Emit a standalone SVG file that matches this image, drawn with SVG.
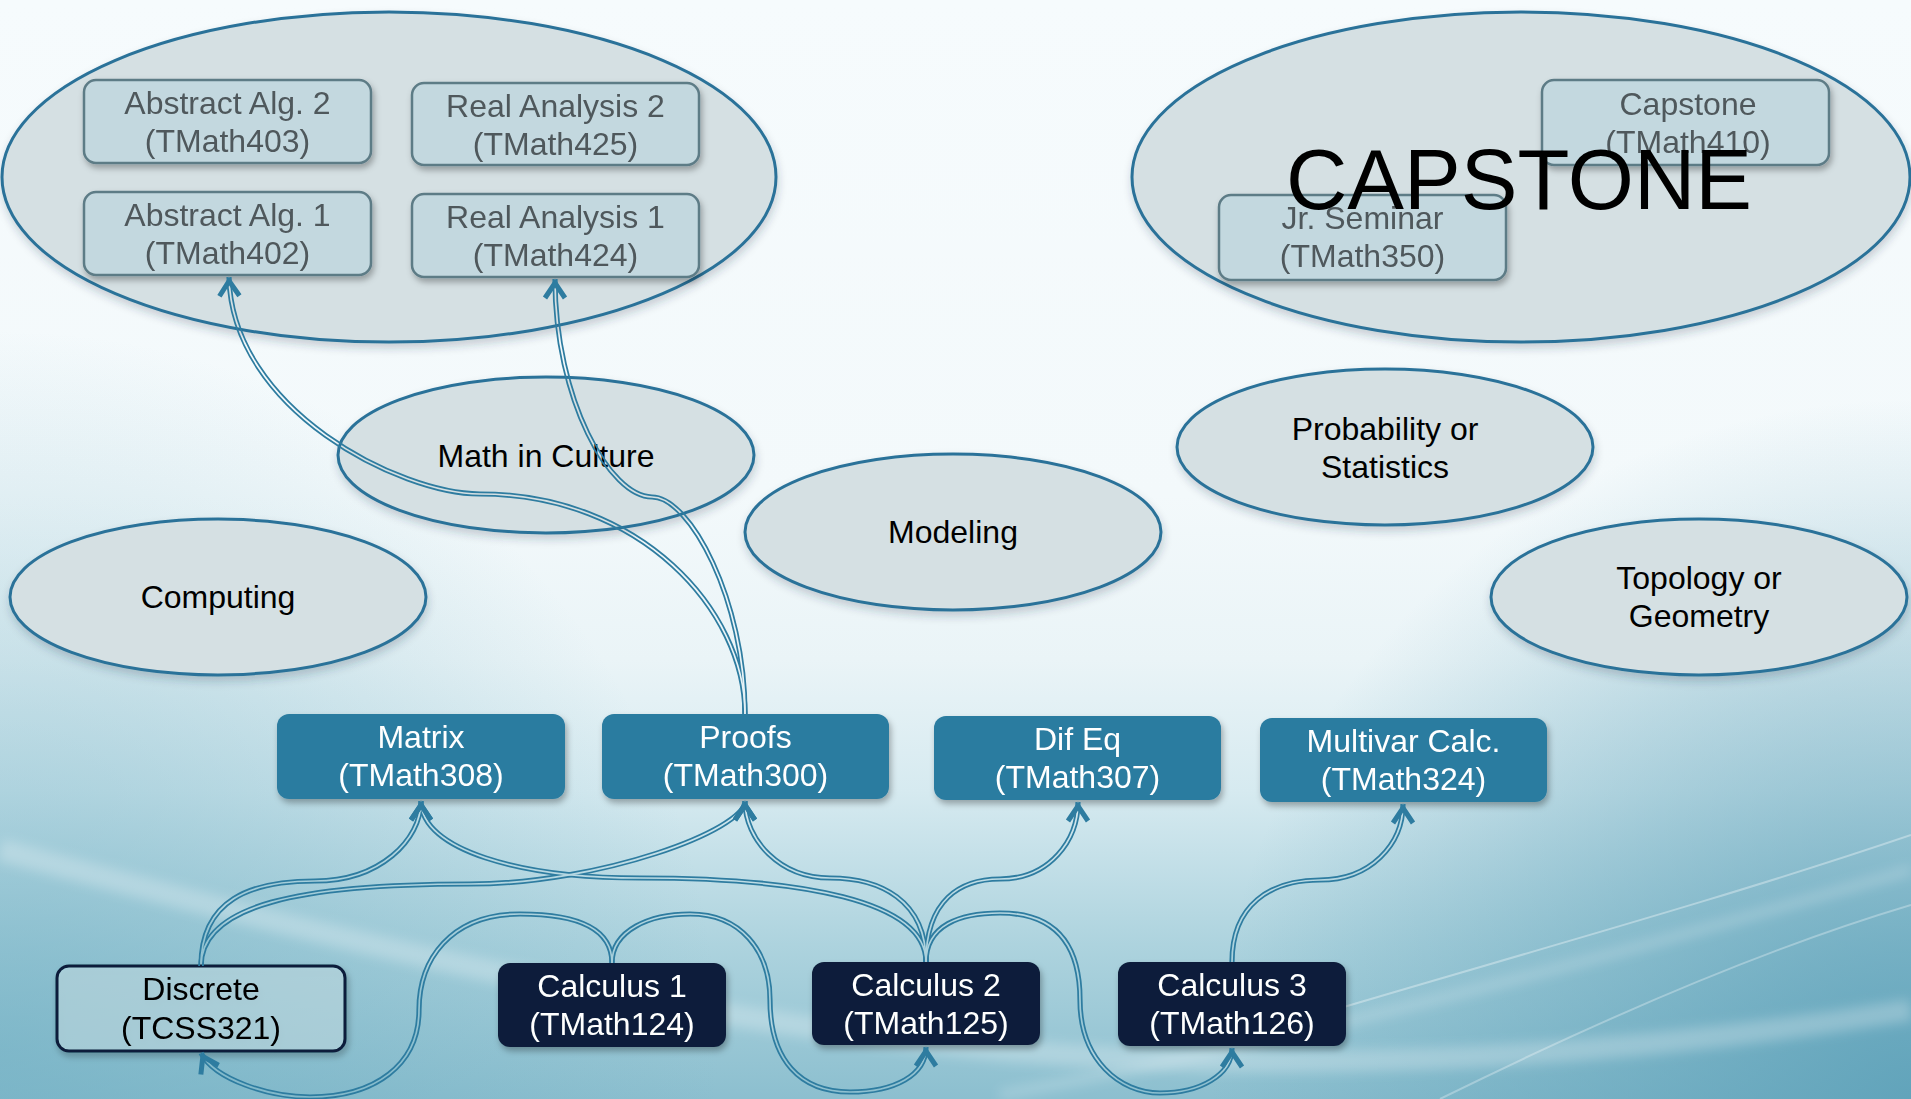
<svg xmlns="http://www.w3.org/2000/svg" xmlns:xlink="http://www.w3.org/1999/xlink" width="1911" height="1099" viewBox="0 0 1911 1099">
  <defs>
    <linearGradient id="bg" x1="0" y1="0" x2="0" y2="1">
      <stop offset="0" stop-color="#f6fbfd"/>
      <stop offset="0.45" stop-color="#f3f9fb"/>
      <stop offset="0.6" stop-color="#eaf4f7"/>
      <stop offset="0.72" stop-color="#d6eaf0"/>
      <stop offset="0.86" stop-color="#add3de"/>
      <stop offset="1" stop-color="#8cbfcf"/>
    </linearGradient>
    <radialGradient id="bgLeft" gradientUnits="userSpaceOnUse" cx="0" cy="1050" r="720">
      <stop offset="0" stop-color="#6eaec2" stop-opacity="0.6"/>
      <stop offset="1" stop-color="#6eaec2" stop-opacity="0"/>
    </radialGradient>
    <radialGradient id="bgRight" gradientUnits="userSpaceOnUse" cx="1911" cy="1099" r="700">
      <stop offset="0" stop-color="#5a9fb7" stop-opacity="0.85"/>
      <stop offset="1" stop-color="#5a9fb7" stop-opacity="0"/>
    </radialGradient>
    <filter id="soft" x="-10%" y="-10%" width="120%" height="120%">
      <feGaussianBlur stdDeviation="6"/>
    </filter>
    <filter id="sh" x="-10%" y="-10%" width="125%" height="135%">
      <feDropShadow dx="2" dy="4" stdDeviation="3" flood-color="#000" flood-opacity="0.3"/>
    </filter>
    <filter id="shEll" x="-10%" y="-10%" width="120%" height="130%">
      <feDropShadow dx="1" dy="5" stdDeviation="4" flood-color="#1b3a48" flood-opacity="0.22"/>
    </filter>
    <!-- open chevron arrowhead for connector ends -->
    <marker id="tip" markerUnits="userSpaceOnUse" viewBox="-24 -14 26 28" markerWidth="26" markerHeight="28" refX="0" refY="0" orient="auto" overflow="visible">
      <path d="M-19,-10 L-4,0 L-19,10" fill="none" stroke="#2e7ca0" stroke-width="5"/>
    </marker>
    <marker id="tipMask" markerUnits="userSpaceOnUse" viewBox="-24 -14 26 28" markerWidth="26" markerHeight="28" refX="0" refY="0" orient="auto" overflow="visible">
      <path d="M-19,-10 L-4,0 L-19,10" fill="none" stroke="#fff" stroke-width="5"/>
    </marker>
    <!-- hollows out the middle of each connector stroke to give a double line -->
    <mask id="gap" maskUnits="userSpaceOnUse" x="0" y="0" width="1911" height="1099">
      <rect width="1911" height="1099" fill="#fff"/>
      <g fill="none" stroke="#000" stroke-width="1.7" marker-end="url(#tipMask)">
        <use href="#c1"/><use href="#c2"/><use href="#c3"/><use href="#c4"/>
        <use href="#c5"/><use href="#c6"/><use href="#c7"/><use href="#c8"/>
        <use href="#c9"/><use href="#c10"/><use href="#c11"/>
      </g>
    </mask>
    <style>
      .lbl { font-family: "Liberation Sans", Arial, sans-serif; font-size: 32px; text-anchor: middle; }
      .dark { fill: #000; }
      .grey { fill: #4f585c; }
      .white { fill: #fff; }
      .cluster { fill: #d5e0e3; stroke: #2b7299; stroke-width: 3; }
      .topic { fill: #d5e0e3; stroke: #2b7299; stroke-width: 3; }
      .upper { fill: #c3d8df; stroke: #5d7b86; stroke-width: 2.5; }
      .mid { fill: #2c7ca0; }
      .base { fill: #0b1f3a; }
      .disc { fill: #c5e1e9; fill-opacity: 0.55; stroke: #0b1f3a; stroke-width: 3; }
    </style>
  </defs>

  <!-- backdrop -->
  <g id="backdrop">
    <rect width="1911" height="1099" fill="url(#bg)"/>
    <rect width="1911" height="1099" fill="url(#bgLeft)"/>
    <rect width="1911" height="1099" fill="url(#bgRight)"/>
    <path d="M0,850 C300,930 600,1010 1000,1050 C1300,1075 1600,1060 1911,1010" fill="none" stroke="#fff" stroke-opacity="0.25" stroke-width="22" filter="url(#soft)"/>
    <path d="M1300,1020 C1500,960 1720,900 1911,835" fill="none" stroke="#fff" stroke-opacity="0.35" stroke-width="2"/>
    <path d="M1440,1099 C1600,1020 1760,950 1911,905" fill="none" stroke="#fff" stroke-opacity="0.3" stroke-width="2"/>
    <path d="M1000,1095 C1300,1040 1600,960 1911,870" fill="none" stroke="#fff" stroke-opacity="0.2" stroke-width="10" filter="url(#soft)"/>
  </g>

  <!-- upper-division cluster -->
  <g id="cluster-upper">
    <ellipse class="cluster" cx="389" cy="177" rx="387" ry="165" filter="url(#shEll)"/>
  </g>
  <g id="node-abstract2" filter="url(#sh)">
    <rect class="upper" x="84" y="80" width="287" height="83" rx="12"/>
    <text class="lbl grey" x="227.5" y="114">Abstract Alg. 2</text>
    <text class="lbl grey" x="227.5" y="152">(TMath403)</text>
  </g>
  <g id="node-real2" filter="url(#sh)">
    <rect class="upper" x="412" y="83" width="287" height="82" rx="12"/>
    <text class="lbl grey" x="555.5" y="117">Real Analysis 2</text>
    <text class="lbl grey" x="555.5" y="155">(TMath425)</text>
  </g>
  <g id="node-abstract1" filter="url(#sh)">
    <rect class="upper" x="84" y="192" width="287" height="83" rx="12"/>
    <text class="lbl grey" x="227.5" y="226">Abstract Alg. 1</text>
    <text class="lbl grey" x="227.5" y="264">(TMath402)</text>
  </g>
  <g id="node-real1" filter="url(#sh)">
    <rect class="upper" x="412" y="194" width="287" height="83" rx="12"/>
    <text class="lbl grey" x="555.5" y="228">Real Analysis 1</text>
    <text class="lbl grey" x="555.5" y="266">(TMath424)</text>
  </g>

  <!-- capstone cluster -->
  <g id="cluster-capstone">
    <ellipse class="cluster" cx="1521" cy="177" rx="389" ry="165" filter="url(#shEll)"/>
  </g>
  <g id="node-capstone" filter="url(#sh)">
    <rect class="upper" x="1542" y="80" width="287" height="85" rx="12"/>
    <text class="lbl grey" x="1688" y="115">Capstone</text>
    <text class="lbl grey" x="1688" y="153">(TMath410)</text>
  </g>
  <g id="node-jrseminar" filter="url(#sh)">
    <rect class="upper" x="1219" y="195" width="287" height="85" rx="12"/>
    <text class="lbl grey" x="1362.5" y="229">Jr. Seminar</text>
    <text class="lbl grey" x="1362.5" y="267">(TMath350)</text>
  </g>

  <!-- elective topics -->
  <g id="topic-culture">
    <ellipse class="topic" cx="546" cy="455" rx="208" ry="78" filter="url(#shEll)"/>
    <text class="lbl dark" x="546" y="467">Math in Culture</text>
  </g>
  <g id="topic-computing">
    <ellipse class="topic" cx="218" cy="597" rx="208" ry="78" filter="url(#shEll)"/>
    <text class="lbl dark" x="218" y="608">Computing</text>
  </g>
  <g id="topic-modeling">
    <ellipse class="topic" cx="953" cy="532" rx="208" ry="78" filter="url(#shEll)"/>
    <text class="lbl dark" x="953" y="543">Modeling</text>
  </g>
  <g id="topic-probability">
    <ellipse class="topic" cx="1385" cy="447" rx="208" ry="78" filter="url(#shEll)"/>
    <text class="lbl dark" x="1385" y="440">Probability or</text>
    <text class="lbl dark" x="1385" y="478">Statistics</text>
  </g>
  <g id="topic-topology">
    <ellipse class="topic" cx="1699" cy="597" rx="208" ry="78" filter="url(#shEll)"/>
    <text class="lbl dark" x="1699" y="589">Topology or</text>
    <text class="lbl dark" x="1699" y="627">Geometry</text>
  </g>

  <!-- 300-level courses -->
  <g id="node-matrix" filter="url(#sh)">
    <rect class="mid" x="277" y="714" width="288" height="85" rx="12"/>
    <text class="lbl white" x="421" y="748">Matrix</text>
    <text class="lbl white" x="421" y="786">(TMath308)</text>
  </g>
  <g id="node-proofs" filter="url(#sh)">
    <rect class="mid" x="602" y="714" width="287" height="85" rx="12"/>
    <text class="lbl white" x="745.5" y="748">Proofs</text>
    <text class="lbl white" x="745.5" y="786">(TMath300)</text>
  </g>
  <g id="node-difeq" filter="url(#sh)">
    <rect class="mid" x="934" y="716" width="287" height="84" rx="12"/>
    <text class="lbl white" x="1077.5" y="750">Dif Eq</text>
    <text class="lbl white" x="1077.5" y="788">(TMath307)</text>
  </g>
  <g id="node-multivar" filter="url(#sh)">
    <rect class="mid" x="1260" y="718" width="287" height="84" rx="12"/>
    <text class="lbl white" x="1403.5" y="752">Multivar Calc.</text>
    <text class="lbl white" x="1403.5" y="790">(TMath324)</text>
  </g>

  <!-- foundation courses -->
  <g id="node-discrete" filter="url(#sh)">
    <rect class="disc" x="57" y="966" width="288" height="85" rx="12"/>
    <text class="lbl dark" x="201" y="1000">Discrete</text>
    <text class="lbl dark" x="201" y="1039">(TCSS321)</text>
  </g>
  <g id="node-calc1" filter="url(#sh)">
    <rect class="base" x="498" y="963" width="228" height="84" rx="12"/>
    <text class="lbl white" x="612" y="997">Calculus 1</text>
    <text class="lbl white" x="612" y="1035">(TMath124)</text>
  </g>
  <g id="node-calc2" filter="url(#sh)">
    <rect class="base" x="812" y="962" width="228" height="83" rx="12"/>
    <text class="lbl white" x="926" y="996">Calculus 2</text>
    <text class="lbl white" x="926" y="1034">(TMath125)</text>
  </g>
  <g id="node-calc3" filter="url(#sh)">
    <rect class="base" x="1118" y="962" width="228" height="84" rx="12"/>
    <text class="lbl white" x="1232" y="996">Calculus 3</text>
    <text class="lbl white" x="1232" y="1034">(TMath126)</text>
  </g>

  <!-- prerequisite connectors (double lines) -->
  <g id="connectors" fill="none" stroke="#2e7ca0" stroke-width="5.2" marker-end="url(#tip)" mask="url(#gap)">
    <path id="c1" d="M745,714 C745,610 640,494 480,494 C400,494 232,410 229,277"/>
    <path id="c2" d="M745,714 C745,600 690,497 652,497 C610,497 555,400 555,279"/>
    <path id="c3" d="M201,966 C201,900 250,881 315,881 C380,881 421,840 421,801"/>
    <path id="c4" d="M201,966 C201,905 300,884 470,884 C600,884 745,830 745,801"/>
    <path id="c5" d="M926,962 C926,900 800,878 640,878 C520,878 421,850 421,801"/>
    <path id="c6" d="M926,962 C926,900 880,878 830,878 C780,878 745,840 745,801"/>
    <path id="c7" d="M926,962 C926,900 960,879 1000,879 C1050,879 1078,840 1078,802"/>
    <path id="c8" d="M926,962 C926,925 960,913 1000,913 C1060,913 1080,950 1080,1000 C1080,1060 1120,1093 1160,1093 C1200,1093 1232,1075 1232,1048"/>
    <path id="c9" d="M612,963 C612,930 580,914 520,914 C450,914 419,960 419,1010 C419,1065 375,1097 310,1097 C270,1097 215,1080 201,1053"/>
    <path id="c10" d="M612,963 C612,930 650,914 690,914 C740,914 770,950 770,1000 C770,1060 800,1092 850,1092 C895,1092 926,1075 926,1047"/>
    <path id="c11" d="M1232,962 C1232,905 1270,880 1320,880 C1370,880 1403,845 1403,804"/>
  </g>

  <!-- cluster title -->
  <text id="title-capstone" x="1519" y="209" font-family="'Liberation Sans', Arial, sans-serif" font-size="85" text-anchor="middle" fill="#000">CAPSTONE</text>
</svg>
